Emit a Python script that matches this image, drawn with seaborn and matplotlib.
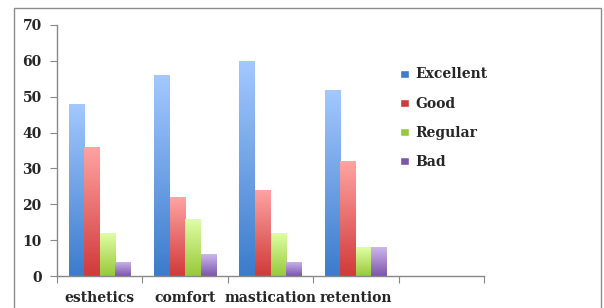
import numpy as np
import pandas as pd
import matplotlib
matplotlib.use('Agg')
import matplotlib.pyplot as plt
import matplotlib.patches as mpatches
from matplotlib.colors import LinearSegmentedColormap
import seaborn as sns

categories = ['esthetics', 'comfort', 'mastication', 'retention']
slots = categories + ['']
ratings = ['Excellent', 'Good', 'Regular', 'Bad']
excellent = [48, 56, 60, 52]
good = [36, 22, 24, 32]
regular = [12, 16, 12, 8]
bad = [4, 6, 4, 8]

# top / bottom colours of the gradient fill for each rating
grad_top = ['#a3c8ff', '#ffa3a3', '#e0ffa6', '#cbb6ee']
grad_bottom = ['#3c7ccc', '#d03a3a', '#98c93a', '#7d56ab']

df = pd.DataFrame({
    'category': categories * 4,
    'rating': np.repeat(ratings, 4),
    'value': excellent + good + regular + bad,
})

sns.set_style('white')
plt.rcParams['font.family'] = ['DejaVu Serif']
plt.rcParams['font.weight'] = 'bold'

fig = plt.figure(figsize=(6.04, 3.08), dpi=100)
ax = fig.add_axes([57 / 604, 1 - 276 / 308, 427 / 604, 251 / 308])

sns.barplot(data=df, x='category', y='value', hue='rating', order=slots,
            hue_order=ratings, palette=grad_bottom, width=0.73,
            saturation=1, legend=False, ax=ax)

# gradient fill on each bar
for i, cont in enumerate(ax.containers):
    cmap = LinearSegmentedColormap.from_list('g%d' % i, [grad_bottom[i], grad_top[i]])
    for p in cont.patches:
        x0, y0 = p.get_x(), p.get_y()
        w, h = p.get_width(), p.get_height()
        if np.isnan(h) or h == 0:
            continue
        grad = np.linspace(0, 1, 100).reshape(-1, 1)
        im = ax.imshow(grad, cmap=cmap, origin='lower', aspect='auto',
                       extent=[x0, x0 + w, y0, y0 + h], zorder=2)
        im.set_clip_path(p)
        p.set_facecolor('none')
        p.set_edgecolor('none')

ax.set_xlim(-0.5, 4.5)
ax.set_ylim(0, 70)
ax.set_yticks(range(0, 71, 10))
ax.set_xticks(np.arange(-0.5, 5, 1))
ax.set_xticklabels([])
ax.set_xticks(range(4), minor=True)
ax.set_xticklabels(categories, minor=True)
ax.tick_params(axis='x', which='minor', length=0, pad=11, labelsize=10)
ax.tick_params(axis='x', which='major', length=5, color='#888888', direction='out', bottom=True)
ax.tick_params(axis='y', length=5, color='#888888', direction='out', left=True, labelsize=10, pad=6)
ax.set_xlabel('')
ax.set_ylabel('')
for s in ['top', 'right']:
    ax.spines[s].set_visible(False)
for s in ['left', 'bottom']:
    ax.spines[s].set_color('#888888')
    ax.spines[s].set_linewidth(1)

handles = [mpatches.Patch(facecolor=c, label=r) for c, r in zip(grad_bottom, ratings)]
fig.legend(handles=handles, loc='upper left', bbox_to_anchor=(388 / 604, 1 - 55 / 308),
           frameon=False, handlelength=0.6, handleheight=0.5, handletextpad=0.5,
           labelspacing=1.08, prop={'size': 10, 'weight': 'bold'})

border = mpatches.Rectangle((14 / 604, -0.1), 587 / 604, 1.1 - 8 / 308,
                            transform=fig.transFigure, fill=False,
                            edgecolor='#8c8c8c', linewidth=1)
fig.patches.append(border)

fig.savefig('out.png', dpi=100)
